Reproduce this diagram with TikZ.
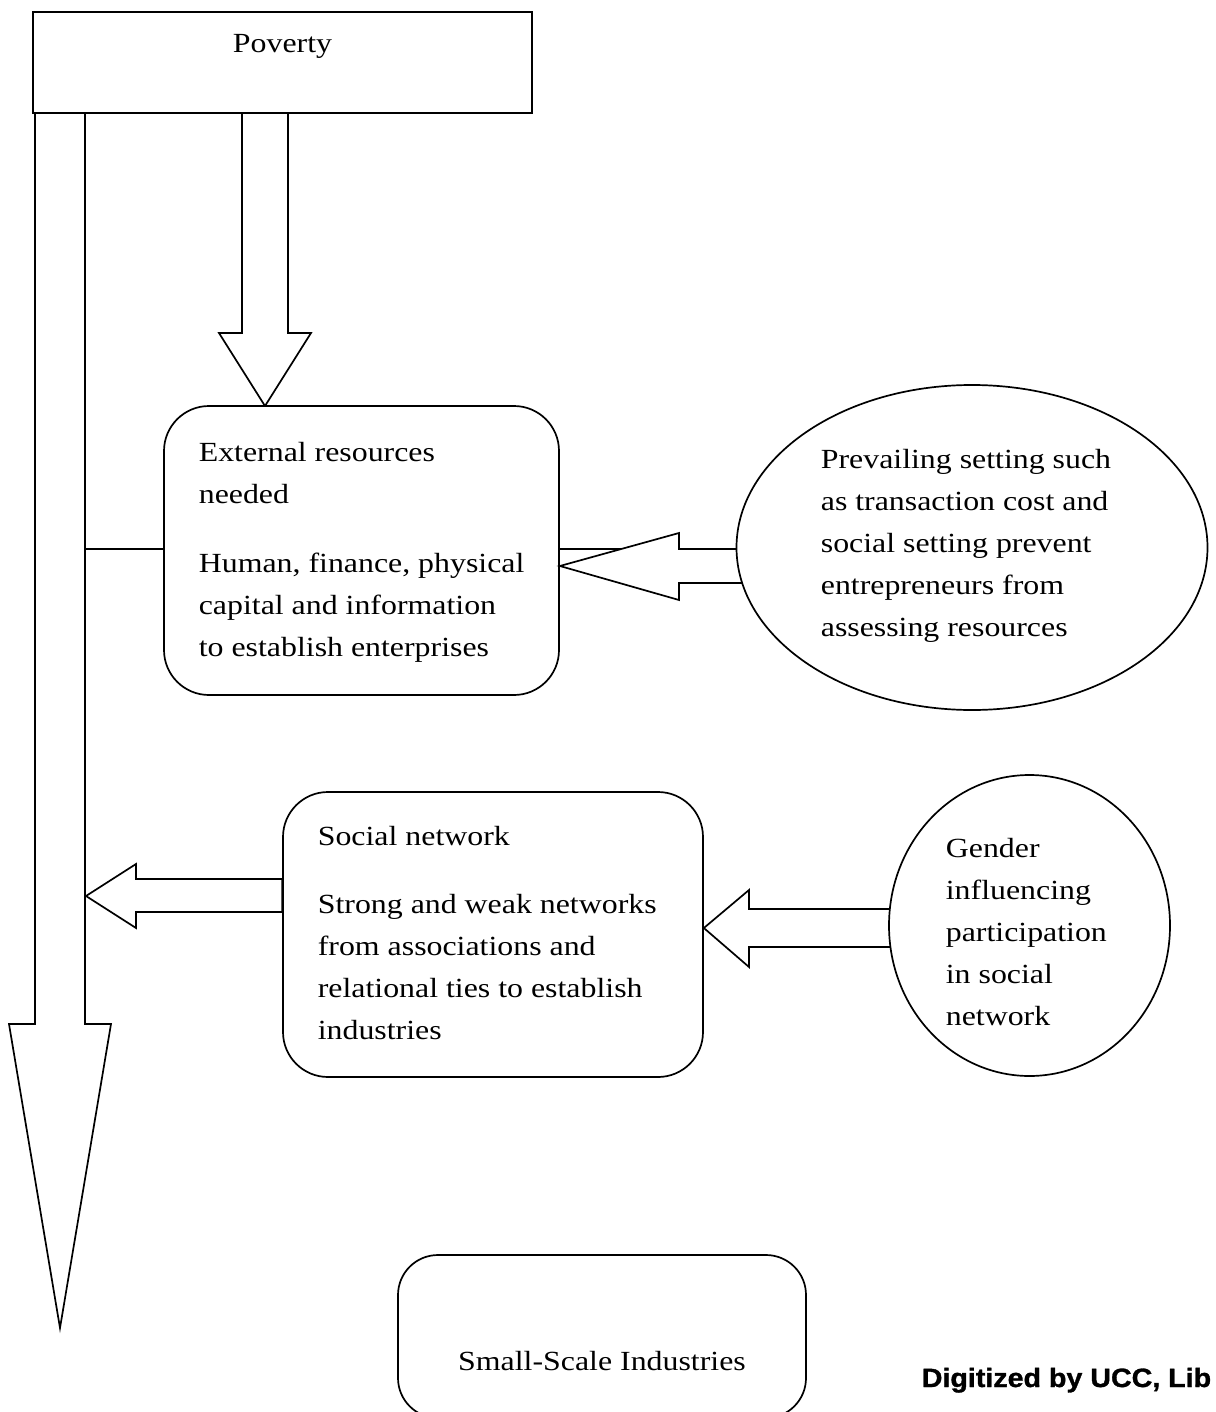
\documentclass[tikz,border=0pt]{standalone}
\usepackage{fontspec}
\setmainfont{Liberation Serif}[FakeStretch=1.15]
\newfontfamily\wmfont{Liberation Sans}[FakeStretch=1.08, BoldFeatures={FakeBold=1.2}]
\usetikzlibrary{shapes.geometric}
\begin{document}
\begin{tikzpicture}[x=1pt,y=-1pt,line width=1.7pt,
  txt/.style={font=\fontsize{27.7}{42.2}\selectfont, inner sep=0pt, anchor=base west},
  rbox/.style={draw, fill=white, rounded corners=45pt, inner sep=0pt},
  oval/.style={draw, fill=white, ellipse, inner sep=0pt},
  barrow/.style={draw, fill=white, line join=miter}]
\useasboundingbox (0,0) rectangle (1215,1412);
\clip (0,0) rectangle (1215,1412);

% long arrow from Poverty down to the bottom
\coordinate (bigtip) at (60,1328);
\draw[barrow] (35,113) -- (35,1024) -- (9,1024) -- (bigtip) -- (111,1024) -- (85,1024) -- (85,113);

% down arrow from Poverty to External resources
\coordinate (downtip) at (265,406);
\draw[barrow] (242,113) -- (242,333) -- (219,333) -- (downtip) -- (311,333) -- (288,333) -- (288,113);

% Poverty box (drawn after the arrows so its lower edge stays whole)
\node[draw, fill=white, minimum width=499pt, minimum height=101pt, inner sep=0pt] (pov) at (282.5,62.5) {};
\node[txt, anchor=base] (povt) at (282.5,53) {Poverty};

% boxes
\node[rbox, minimum width=395pt, minimum height=289pt] (ext) at (361.5,550.5) {};
\node[rbox, minimum width=420pt, minimum height=285pt] (sn) at (493,934.5) {};
\node[rbox, rounded corners=40pt, minimum width=408pt, minimum height=163pt] (ssi) at (602,1336.5) {};

% connector lines at y=549
\coordinate (j1) at (85,549);
\coordinate (j2) at (737,549);
\draw (j1) -- (j1 -| ext.west);
\draw (ext.east |- j1) -- (j2);

% block arrow: prevailing setting -> external resources
\draw[barrow] (ext.east |- 0,566) -- (679,533) -- (679,549) -- (770,549) -- (770,583) -- (679,583) -- (679,600) -- cycle;
% block arrow: social network -> long arrow
\draw[barrow] (86,896) -- (136,864) -- (136,879) -- (sn.west |- 0,879) -- (sn.west |- 0,912) -- (136,912) -- (136,928) -- cycle;
% block arrow: gender -> social network
\draw[barrow] (sn.east |- 0,928) -- (749,890) -- (749,909) -- (920,909) -- (920,947) -- (749,947) -- (749,967) -- cycle;

\node[oval, minimum width=471pt, minimum height=325pt] (pre) at (972,547.5) {};
\node[oval, minimum width=281pt, minimum height=301pt] (gen) at (1029.5,925.5) {};

% texts
\node[txt] (extt) at (198,461) {\vtop{\hbox{External resources}\hbox{needed}\vskip27pt
  \hbox{Human, finance, physical}\hbox{capital and information}\hbox{to establish enterprises}}};
\node[txt] (pret) at (820,468) {\vtop{\hbox{Prevailing setting such}\hbox{as transaction cost and}
  \hbox{social setting prevent}\hbox{entrepreneurs from}\hbox{assessing resources}}};
\node[txt] (snt) at (317,845) {\vtop{\hbox{Social network}\vskip26pt
  \hbox{Strong and weak networks}\hbox{from associations and}\hbox{relational ties to establish}\hbox{industries}}};
\node[txt] (gent) at (945,857) {\vtop{\hbox{Gender}\hbox{influencing}\hbox{participation}\hbox{in social}\hbox{network}}};
\node[txt, anchor=base] (ssit) at (602,1370) {Small-Scale Industries};
\node[font=\wmfont\bfseries\fontsize{26.5}{30}\selectfont, inner sep=0pt, anchor=base east] (wm) at (1212,1387) {Digitized by UCC, Lib};
\end{tikzpicture}
\end{document}
